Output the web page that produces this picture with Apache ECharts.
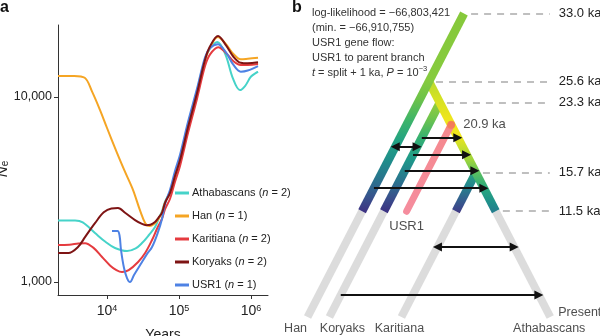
<!DOCTYPE html>
<html><head><meta charset="utf-8">
<script src="https://cdn.jsdelivr.net/npm/echarts@6/dist/echarts.min.js"></script>
<style>html,body{margin:0;padding:0;background:#fff}#c{width:600px;height:336px}</style>
</head><body><div id="c"></div>
<script>
const FONT = '"Liberation Sans Narrow","Liberation Sans",Arial,sans-serif';

// ---------- Panel a: PSMC-like curves, [years, Ne] ----------
const populations = ['Athabascans', 'Han', 'Karitiana', 'Koryaks', 'USR1'];
const sampleSizes = [2, 1, 2, 2, 1];
const athabascans = [[2085,2150],[3600,2150],[4600,2100],[6800,1841],[9500,1650],[12900,1527],[18950,1471],[25000,1520],[30600,1624],[38000,1790],[46400,1982],[53000,2230],[58100,2420],[63930,2720],[75000,3080],[87900,3820],[103200,4680],[133400,7080],[177800,10800],[229700,16100],[269600,18300],[340000,19800],[440000,17000],[560000,12600],[700000,10900],[830000,11500],[1000000,12900],[1250000,13700]];
const han = [[2085,12990],[3500,12990],[4900,12700],[6200,10700],[8000,8500],[10000,6800],[13800,4980],[18000,3900],[23000,3140],[28800,2430],[34000,2080],[39000,2010],[45000,2060],[52000,2200],[58100,2380],[63930,2690],[75000,3030],[87900,3740],[103200,4560],[133400,6880],[177800,10500],[229700,15800],[269600,18500],[345000,21100],[440000,19500],[560000,17200],[720000,16000],[900000,16100],[1250000,16300]];
const karitiana = [[2085,1585],[3000,1592],[4000,1615],[4950,1622],[6500,1530],[8530,1365],[11000,1230],[13500,1160],[16150,1132],[20000,1160],[27000,1283],[34000,1440],[42170,1687],[50000,1960],[58100,2200],[63930,2480],[75000,2820],[87900,3480],[103200,4240],[133400,6400],[177800,9800],[229700,14700],[269600,17000],[350000,18600],[450000,17300],[570000,15600],[720000,14900],[900000,14900],[1250000,15100]];
const koryaks = [[2085,1435],[2900,1435],[3950,1546],[5000,1760],[6800,2080],[9000,2380],[11500,2500],[14200,2512],[18000,2360],[24500,2163],[30600,2060],[35000,2030],[40000,2040],[46400,2110],[52000,2230],[58100,2370],[63930,2680],[75000,3030],[87900,3740],[103200,4560],[133400,6880],[177800,10500],[229700,15900],[269600,18800],[348000,21380],[450000,19000],[570000,16500],[720000,15300],[900000,15200],[1250000,15400]];
const usr1 = [[11730,1886],[14000,1886],[14900,1790],[15650,1489],[17220,1190],[18950,1051],[20850,1000],[23700,1091],[30640,1283],[36000,1420],[42170,1546],[51000,1860],[58100,2200],[63930,2640],[75000,3150],[87900,3980],[103200,4880],[133400,7350],[177800,11100],[229700,16400],[269600,18400],[345000,19310],[450000,17400],[570000,14900],[720000,13700],[900000,13900],[1250000,14700]];
const seriesValues = [athabascans, han, karitiana, koryaks, usr1];
const lineColors = ['#46D3C9', '#F5A524', '#E53B3F', '#7E1414', '#4E82E4'];
const xTickYears = [1e4, 1e5, 1e6];
const yTickNe = [1000, 10000];
const xRangeYears = [2085, 1720000];
const yRangeNe = [851, 24500];

// ---------- Panel b: admixture graph (times in ka) ----------
const splitTimes = [33.0, 25.6, 23.3, 15.7, 11.5];
const splitAnchor = ['Han', 'Han', 'B', 'B', 'B'];
const branchNames = ['Han', 'B', 'Koryaks', 'Karitiana', 'USR1'];
const branchParent = [null, 'Han', 'B', 'B', 'B'];
const branchStart = [33.0, 25.6, 23.3, 15.7, 20.9];
const branchDir = [-1, 1, -1, -1, -1];
const sampledEnd = 11.5;   // end of coloured part
const leafBranches = ['Han', 'Koryaks', 'Karitiana', 'B'];
const leafNames = ['Han', 'Koryaks', 'Karitiana', 'Athabascans'];
const geneFlowTimes = [19.5, 18.5, 17.65, 15.9, 14.0, 7.6, 2.4];
const geneFlowFrom = ['Koryaks', 'Han', 'Koryaks', 'Koryaks', 'Han', 'Karitiana', 'Koryaks'];
const geneFlowTo = ['B', 'Koryaks', 'B', 'B', 'B', 'B', 'B'];
const geneFlowBoth = [false, true, false, false, false, true, false];
const infoLines = ['log-likelihood = \u221266,803,421', '(min. = \u221266,910,755)', 'USR1 gene flow:', 'USR1 to parent branch', '{i|t} = split + 1 ka, {i|P} = 10{sup|\u22123}'];

// colour (viridis-like) stops along each branch, by time
const branchColors = {
  Han: [[33,'#86C83B'],[25.6,'#86CB3E'],[23.6,'#6CC24A'],[21.4,'#3DB46A'],[19.25,'#22A283'],[17.1,'#1F8C8B'],[14.9,'#2C6E8E'],[13.3,'#38508C'],[11.5,'#3F2A80']],
  B: [[25.6,'#B4D834'],[23.6,'#D2E124'],[21.4,'#EEE51E'],[19.8,'#F2E61C'],[18.5,'#C9DF2E'],[17.1,'#9AD43D'],[15.7,'#55BD64'],[14.2,'#28A77F'],[12.8,'#1F8F8B'],[11.5,'#26768E']],
  Koryaks: [[23.3,'#9DCF39'],[21.4,'#72C54B'],[19.25,'#34B073'],[17.1,'#1E988A'],[14.9,'#2A728E'],[13.3,'#39508C'],[11.5,'#3C2A80']],
  Karitiana: [[15.7,'#2BA97B'],[14.2,'#23878D'],[13,'#33628E'],[12,'#3D448A'],[11.5,'#3F2070']],
  USR1: [[20.9,'#F47B52'],[20.0,'#F5898F'],[11.5,'#F58D9E']]
};

function xOf(name, t) {
  const i = branchNames.indexOf(name);
  const s = branchStart[i];
  const x0 = branchParent[i] ? xOf(branchParent[i], s) : 0;
  return x0 + branchDir[i] * (s - t);
}
function grad(name, tTop, tBot) {
  return { type: 'linear', x: 0, y: 0, x2: 0, y2: 1,
    colorStops: branchColors[name].map(([t, c]) => ({ offset: Math.min(1, Math.max(0, (tTop - t) / (tTop - tBot))), color: c })) };
}
const lg = Math.log10;

const chart = echarts.init(document.getElementById('c'), null, { renderer: 'canvas' });

const lineSeries = populations.map((p, i) => ({
  name: p, type: 'line', xAxisIndex: 0, yAxisIndex: 0,
  data: seriesValues[i].map(d => [lg(d[0]), lg(d[1])]),
  smooth: 0.35, symbol: 'none', showSymbol: false,
  lineStyle: { width: 2, color: lineColors[i] }, itemStyle: { color: lineColors[i] },
  z: 2 + (i === 3 ? 1 : 0)
}));

const treeBase = { type: 'lines', coordinateSystem: 'cartesian2d', xAxisIndex: 1, yAxisIndex: 1, silent: true, animation: false, clip: false };

const grayLines = Object.assign({}, treeBase, {
  z: 3,
  lineStyle: { color: '#DCDCDC', width: 8, opacity: 1 },
  data: leafBranches.map(b => ({ coords: [[xOf(b, sampledEnd), sampledEnd], [xOf(b, 0), 0]] }))
});
const colorOrder = ['Koryaks', 'Karitiana', 'B', 'Han'];
const colorLines = Object.assign({}, treeBase, {
  z: 4,
  lineStyle: { width: 8.5, opacity: 1 },
  data: colorOrder.map(b => {
    const s = branchStart[branchNames.indexOf(b)];
    return { coords: [[xOf(b, s), s], [xOf(b, sampledEnd), sampledEnd]], lineStyle: { color: grad(b, s, sampledEnd), width: 8.5, opacity: 1 } };
  })
});
const usrStart = branchStart[4];
const usrLine = Object.assign({}, treeBase, {
  z: 5,
  lineStyle: { width: 7, opacity: 1, cap: 'round' },
  data: [{ coords: [[xOf('USR1', usrStart), usrStart], [xOf('USR1', sampledEnd), sampledEnd]], lineStyle: { color: grad('USR1', usrStart, sampledEnd), width: 7, opacity: 1, cap: 'round' } }]
});
function flowData(both) {
  const out = [];
  geneFlowTimes.forEach((t, i) => {
    if (geneFlowBoth[i] === both) out.push({ coords: [[xOf(geneFlowFrom[i], t), t], [xOf(geneFlowTo[i], t), t]] });
  });
  return out;
}
const arrowStyle = { color: '#111', width: 2, opacity: 1 };
const flowOne = Object.assign({}, treeBase, { z: 7, symbol: ['none', 'triangle'], symbolSize: 9, lineStyle: arrowStyle, data: flowData(false) });
const flowTwo = Object.assign({}, treeBase, { z: 7, symbol: ['triangle', 'triangle'], symbolSize: 9, lineStyle: arrowStyle, data: flowData(true) });
const dashEnd = 18.1;
const dashes = Object.assign({}, treeBase, {
  z: 2,
  lineStyle: { color: '#AAAAAA', width: 1.5, type: [7, 6], opacity: 1 },
  label: { show: true, position: 'end', distance: 9, formatter: '{b}', fontSize: 13, fontFamily: FONT, color: '#222' },
  data: splitTimes.map((t, i) => ({ name: t.toFixed(1) + ' ka', coords: [[xOf(splitAnchor[i], t) + 1.5, t], [dashEnd, t]] }))
});
const leafOffsets = [[-12, 0], [13, 0], [-2, 0], [-1, 0]];
const labelsSeries = {
  type: 'scatter', xAxisIndex: 1, yAxisIndex: 1, symbolSize: 0, silent: true, z: 8, clip: false,
  label: { show: true, formatter: '{b}', fontSize: 12.5, fontFamily: FONT, color: '#222', position: 'bottom', distance: 5 },
  data: leafBranches.map((b, i) => ({ name: leafNames[i], value: [xOf(b, 0), 0], label: { offset: leafOffsets[i] } }))
    .concat([
      { name: 'Present', value: [xOf('B', 0), 0], label: { position: 'right', distance: 8, offset: [0, -4], fontSize: 12.5 } },
      { name: 'USR1', value: [xOf('USR1', sampledEnd), sampledEnd], label: { position: 'bottom', distance: 9, fontSize: 13 } }
    ])
};
const usrDot = {
  type: 'scatter', xAxisIndex: 1, yAxisIndex: 1, symbol: 'circle', symbolSize: 8, silent: true, z: 6, clip: false,
  itemStyle: { color: '#F47B55' },
  label: { show: true, position: 'right', distance: 8, formatter: usrStart.toFixed(1) + ' ka', fontSize: 13, fontFamily: FONT, color: '#222' },
  data: [[xOf('USR1', usrStart), usrStart]]
};

chart.setOption({
  animation: false,
  backgroundColor: '#fff',
  title: [
    { text: 'a', left: 0, top: 0, padding: 0, textStyle: { fontSize: 16, fontWeight: 'bold', fontFamily: 'Liberation Sans', color: '#111' } },
    { text: 'b', left: 292, top: 0, padding: 0, textStyle: { fontSize: 16, fontWeight: 'bold', fontFamily: 'Liberation Sans', color: '#111' } },
    { text: infoLines.join('\n'), left: 312, top: 5, padding: 0,
      textStyle: { fontSize: 11, lineHeight: 15, fontWeight: 'normal', fontFamily: FONT, color: '#333',
        rich: { i: { fontStyle: 'italic', fontSize: 11, lineHeight: 15, fontFamily: FONT, color: '#333' },
                sup: { fontSize: 7.5, lineHeight: 8, verticalAlign: 'top', fontFamily: FONT, color: '#333' } } } }
  ],
  legend: {
    left: 175, top: 186, padding: 0, orient: 'vertical', itemWidth: 14, itemHeight: 3, itemGap: 9, icon: 'rect',
    data: populations, selectedMode: false,
    formatter: name => name + ' ({i|n} = ' + sampleSizes[populations.indexOf(name)] + ')',
    textStyle: { fontSize: 11, lineHeight: 14, fontFamily: FONT, color: '#222', padding: [0, 0, 0, -2],
      rich: { i: { fontStyle: 'italic', fontSize: 11, fontFamily: FONT, color: '#222' } } }
  },
  grid: [
    { left: 58, top: 25, width: 210, height: 270, outerBoundsMode: 'none', containLabel: false },
    { left: 300, top: 13.5, width: 300, height: 303.5, outerBoundsMode: 'none', containLabel: false }
  ],
  xAxis: [
    { type: 'value', gridIndex: 0, min: lg(xRangeYears[0]), max: lg(xRangeYears[1]),
      name: 'Years', nameLocation: 'middle', nameGap: 33, nameTextStyle: { fontSize: 14, fontFamily: FONT, color: '#222' },
      axisLine: { show: true, lineStyle: { color: '#333', width: 1 } },
      axisTick: { show: true, length: 4, customValues: xTickYears.map(lg), lineStyle: { color: '#333' } },
      axisLabel: { customValues: xTickYears.map(lg), margin: 9, fontSize: 14, fontFamily: FONT, color: '#222',
        formatter: v => '10{sup|' + Math.round(v) + '}',
        rich: { sup: { fontSize: 9, lineHeight: 9, verticalAlign: 'top', fontFamily: FONT, color: '#222' } } },
      splitLine: { show: false } },
    { type: 'value', gridIndex: 1, min: -34.6, max: 28.7, show: false }
  ],
  yAxis: [
    { type: 'value', gridIndex: 0, min: lg(yRangeNe[0]), max: lg(yRangeNe[1]),
      name: '{i|N}{sub|e}', nameLocation: 'middle', nameGap: 40, nameRotate: 90,
      nameTextStyle: { padding: [0, 18, 0, 0], rich: { i: { fontStyle: 'italic', fontSize: 15, fontFamily: FONT, color: '#222' }, sub: { fontSize: 10, verticalAlign: 'bottom', fontFamily: FONT, color: '#222' } } },
      axisLine: { show: true, lineStyle: { color: '#333', width: 1 } },
      axisTick: { show: true, length: 4, customValues: yTickNe.map(lg), lineStyle: { color: '#333' } },
      axisLabel: { customValues: yTickNe.map(lg), margin: 6, fontSize: 12.5, fontFamily: FONT, color: '#222',
        formatter: v => Math.round(Math.pow(10, v)).toLocaleString('en-US') },
      splitLine: { show: false } },
    { type: 'value', gridIndex: 1, min: 0, max: 33, show: false }
  ],
  series: lineSeries.concat([dashes, grayLines, colorLines, usrLine, usrDot, flowOne, flowTwo, labelsSeries])
});
</script></body></html>
